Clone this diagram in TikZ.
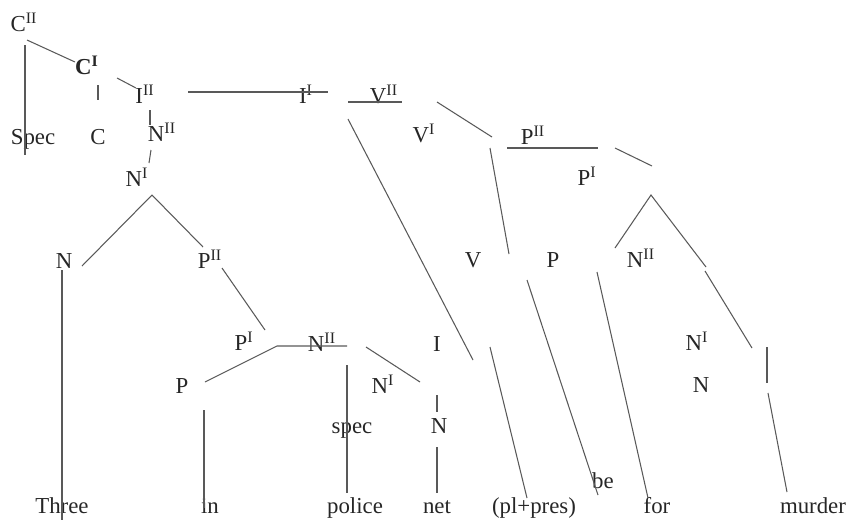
\documentclass[tikz,border=0pt]{standalone}
\usepackage{fontspec}
\setmainfont{Liberation Serif}
\begin{document}
\begin{tikzpicture}[
    x=0.02cm, y=-0.02cm,
    font=\fontsize{13}{15}\selectfont,
    lbl/.style={inner sep=0pt, anchor=base, text=black!85},
    branch/.style={draw=black!65, line width=0.6pt}
]
\useasboundingbox (0,0) rectangle (850,522);

% Category labels
\node[lbl] (c2)   at (24,31)   {C\textsuperscript{II}};
\node[lbl] (c1)   at (87,74)   {\textbf{C\textsuperscript{I}}};
\node[lbl] (i2)   at (145,103) {I\textsuperscript{II}};
\node[lbl] (spec) at (33,144)  {Spec};
\node[lbl] (comp) at (98,144)  {C};
\node[lbl] (n2a)  at (162,141) {N\textsuperscript{II}};
\node[lbl] (n1a)  at (137,186) {N\textsuperscript{I}};
\node[lbl] (i1)   at (306,103) {I\textsuperscript{I}};
\node[lbl] (v2)   at (384,103) {V\textsuperscript{II}};
\node[lbl] (v1)   at (424,142) {V\textsuperscript{I}};
\node[lbl] (p2a)  at (533,144) {P\textsuperscript{II}};
\node[lbl] (p1a)  at (587,185) {P\textsuperscript{I}};
\node[lbl] (na)   at (64,268)  {N};
\node[lbl] (p2b)  at (210,268) {P\textsuperscript{II}};
\node[lbl] (verb) at (473,267) {V};
\node[lbl] (pa)   at (553,267) {P};
\node[lbl] (n2b)  at (641,267) {N\textsuperscript{II}};
\node[lbl] (p1b)  at (244,350) {P\textsuperscript{I}};
\node[lbl] (n2c)  at (322,351) {N\textsuperscript{II}};
\node[lbl] (infl) at (437,351) {I};
\node[lbl] (n1b)  at (697,350) {N\textsuperscript{I}};
\node[lbl] (pb)   at (182,393) {P};
\node[lbl] (n1c)  at (383,393) {N\textsuperscript{I}};
\node[lbl] (nb)   at (701,392) {N};
\node[lbl] (specb) at (352,433) {spec};
\node[lbl] (nc)   at (439,433) {N};
\node[lbl] (be)   at (603,488) {be};

% Words
\node[lbl] (w1) at (62,513)  {Three};
\node[lbl] (w2) at (210,513) {in};
\node[lbl] (w3) at (355,513) {police};
\node[lbl] (w4) at (437,513) {net};
\node[lbl] (w5) at (534,513) {(pl+pres)};
\node[lbl] (w6) at (657,513) {for};
\node[lbl] (w7) at (813,513) {murder};

% Branch end points
\coordinate (a1) at (27,40);   \coordinate (a2) at (75,62);
\coordinate (b1) at (25,45);   \coordinate (b2) at (25,155);
\coordinate (d1) at (98,85);   \coordinate (d2) at (98,100);
\coordinate (e1) at (117,78);  \coordinate (e2) at (136,88);
\coordinate (f1) at (150,110); \coordinate (f2) at (150,125);
\coordinate (g1) at (151,150); \coordinate (g2) at (149,163);
\coordinate (h1) at (188,92);  \coordinate (h2) at (328,92);
\coordinate (k1) at (348,102); \coordinate (k2) at (402,102);
\coordinate (l1) at (348,119); \coordinate (l2) at (473,360);
\coordinate (m1) at (437,102); \coordinate (m2) at (492,137);
\coordinate (o1) at (490,148); \coordinate (o2) at (509,254);
\coordinate (q1) at (507,148); \coordinate (q2) at (598,148);
\coordinate (r1) at (615,148); \coordinate (r2) at (652,166);
\coordinate (top) at (651,195);
\coordinate (s1) at (615,248); \coordinate (s2) at (706,267);
\coordinate (t1) at (705,271); \coordinate (t2) at (752,348);
\coordinate (u1) at (767,347); \coordinate (u2) at (767,383);
\coordinate (u3) at (768,393); \coordinate (u4) at (787,492);
\coordinate (x1) at (597,272); \coordinate (x2) at (648,498);
\coordinate (y1) at (527,280); \coordinate (y2) at (598,495);
\coordinate (z1) at (490,347); \coordinate (z2) at (527,498);
\coordinate (nt) at (152,195);
\coordinate (nl) at (82,266);  \coordinate (nr) at (203,247);
\coordinate (v01) at (62,270); \coordinate (v02) at (62,520);
\coordinate (pp1) at (222,268); \coordinate (pp2) at (265,330);
\coordinate (pq1) at (205,382); \coordinate (pq2) at (277,346);
\coordinate (pq3) at (347,346);
\coordinate (nn1) at (366,347); \coordinate (nn2) at (420,382);
\coordinate (sp1) at (347,365); \coordinate (sp2) at (347,493);
\coordinate (nv1) at (437,395); \coordinate (nv2) at (437,412);
\coordinate (nv3) at (437,447); \coordinate (nv4) at (437,493);
\coordinate (in1) at (204,410); \coordinate (in2) at (204,508);

% Branches
\draw[branch] (a1) -- (a2);
\draw[branch] (b1) -- (b2);
\draw[branch] (d1) -- (d2);
\draw[branch] (e1) -- (e2);
\draw[branch] (f1) -- (f2);
\draw[branch] (g1) -- (g2);
\draw[branch] (h1) -- (h2);
\draw[branch] (k1) -- (k2);
\draw[branch] (l1) -- (l2);
\draw[branch] (m1) -- (m2);
\draw[branch] (o1) -- (o2);
\draw[branch] (q1) -- (q2);
\draw[branch] (r1) -- (r2);
\draw[branch] (s1) -- (top) -- (s2);
\draw[branch] (t1) -- (t2);
\draw[branch] (u1) -- (u2);
\draw[branch] (u3) -- (u4);
\draw[branch] (x1) -- (x2);
\draw[branch] (y1) -- (y2);
\draw[branch] (z1) -- (z2);
\draw[branch] (nl) -- (nt) -- (nr);
\draw[branch] (v01) -- (v02);
\draw[branch] (pp1) -- (pp2);
\draw[branch] (pq1) -- (pq2) -- (pq3);
\draw[branch] (nn1) -- (nn2);
\draw[branch] (sp1) -- (sp2);
\draw[branch] (nv1) -- (nv2);
\draw[branch] (nv3) -- (nv4);
\draw[branch] (in1) -- (in2);

\end{tikzpicture}
\end{document}
